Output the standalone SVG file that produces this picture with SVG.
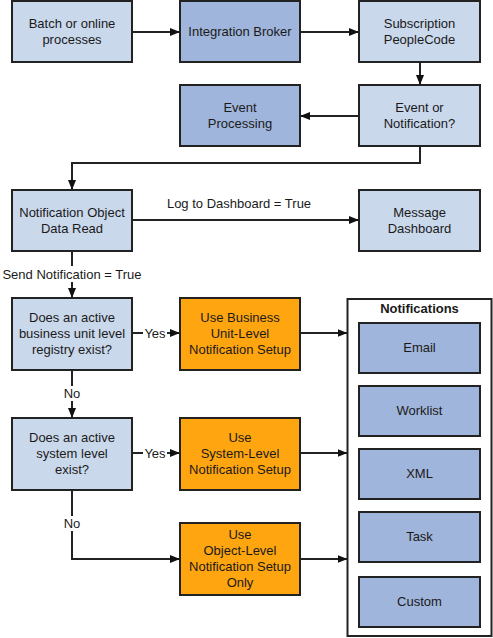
<svg xmlns="http://www.w3.org/2000/svg" width="493" height="638" viewBox="0 0 493 638">
<style>
text{font-family:"Liberation Sans",Arial,sans-serif;font-size:13px;fill:#1a1a1a;text-anchor:middle}
.lb{fill:#cad8ec;stroke:#222;stroke-width:2}
.mb{fill:#a0b5db;stroke:#222;stroke-width:2}
.or{fill:#ffa510;stroke:#222;stroke-width:2}
.ct{fill:#fff;stroke:#222;stroke-width:2}
.c{fill:none;stroke:#222;stroke-width:2}
.bg{fill:#fff}
.t{font-weight:bold}
</style>
<defs>
<marker id="ah" markerUnits="userSpaceOnUse" markerWidth="10" markerHeight="10" viewBox="0 0 10 10" refX="10" refY="5" orient="auto">
<path d="M0,1 L10,5 L0,9 Z" fill="#111"/>
</marker>
</defs>
<rect width="493" height="638" fill="#fff"/>
<g id="connectors">
<path class="c" d="M132,32 H180" marker-end="url(#ah)"/>
<path class="c" d="M300,32 H359" marker-end="url(#ah)"/>
<path class="c" d="M420,62 V85" marker-end="url(#ah)"/>
<path class="c" d="M359,116 H300" marker-end="url(#ah)"/>
<path class="c" d="M420,146 V163 H72 V190" marker-end="url(#ah)"/>
<path class="c" d="M132,220 H359" marker-end="url(#ah)"/>
<path class="c" d="M72,251 V298" marker-end="url(#ah)"/>
<path class="c" d="M132,333 H180" marker-end="url(#ah)"/>
<path class="c" d="M300,333 H347.5" marker-end="url(#ah)"/>
<path class="c" d="M72,370 V418" marker-end="url(#ah)"/>
<path class="c" d="M132,453 H180" marker-end="url(#ah)"/>
<path class="c" d="M300,453 H347.5" marker-end="url(#ah)"/>
<path class="c" d="M72,490 V559 H180" marker-end="url(#ah)"/>
<path class="c" d="M300,559 H347.5" marker-end="url(#ah)"/>
<text x="239" y="207.5">Log to Dashboard = True</text>
<rect class="bg" x="0" y="266" width="144" height="16"/>
<text x="72" y="278.5">Send Notification = True</text>
<rect class="bg" x="143" y="326" width="24" height="14"/>
<text x="155" y="338">Yes</text>
<rect class="bg" x="143" y="446" width="24" height="14"/>
<text x="155" y="457.5">Yes</text>
<rect class="bg" x="60" y="386" width="24" height="15"/>
<text x="72" y="397.5">No</text>
<rect class="bg" x="60" y="516" width="24" height="15"/>
<text x="72" y="527.5">No</text>
</g>
<g id="batch"><rect class="lb" x="12" y="1" width="120" height="61"/><text x="72" y="27.5">Batch or online</text><text x="72" y="43.5">processes</text></g>
<g id="broker"><rect class="mb" x="180" y="1" width="120" height="61"/><text x="240" y="36">Integration Broker</text></g>
<g id="subscription"><rect class="lb" x="359" y="1" width="121" height="61"/><text x="419.5" y="27.5">Subscription</text><text x="419.5" y="43.5">PeopleCode</text></g>
<g id="eventproc"><rect class="mb" x="180" y="85" width="120" height="61"/><text x="240" y="111.5">Event</text><text x="240" y="127.5">Processing</text></g>
<g id="eventornotif"><rect class="lb" x="359" y="85" width="121" height="61"/><text x="419.5" y="111.5">Event or</text><text x="419.5" y="127.5">Notification?</text></g>
<g id="notifread"><rect class="lb" x="12" y="190" width="120" height="61"/><text x="72" y="216.5">Notification Object</text><text x="72" y="232.5">Data Read</text></g>
<g id="dashboard"><rect class="lb" x="359" y="190" width="121" height="61"/><text x="419.5" y="216.5">Message</text><text x="419.5" y="232.5">Dashboard</text></g>
<g id="buregistry"><rect class="lb" x="12" y="298" width="120" height="72"/><text x="72" y="322">Does an active</text><text x="72" y="338">business unit level</text><text x="72" y="354">registry exist?</text></g>
<g id="usebu"><rect class="or" x="180" y="298" width="120" height="72"/><text x="240" y="322">Use Business</text><text x="240" y="338">Unit-Level</text><text x="240" y="354">Notification Setup</text></g>
<g id="syslevel"><rect class="lb" x="12" y="418" width="120" height="72"/><text x="72" y="442">Does an active</text><text x="72" y="458">system level</text><text x="72" y="474">exist?</text></g>
<g id="usesys"><rect class="or" x="180" y="418" width="120" height="72"/><text x="240" y="442">Use</text><text x="240" y="458">System-Level</text><text x="240" y="474">Notification Setup</text></g>
<g id="useobj"><rect class="or" x="180" y="523" width="120" height="72"/><text x="240" y="538.5">Use</text><text x="240" y="554.5">Object-Level</text><text x="240" y="570.5">Notification Setup</text><text x="240" y="586.5">Only</text></g>
<g id="notifications">
<rect class="ct" x="347.5" y="299" width="144" height="337"/>
<text class="t" x="419.5" y="312.5">Notifications</text>
<g id="email"><rect class="mb" x="359" y="323" width="121" height="50"/><text x="419.5" y="352">Email</text></g>
<g id="worklist"><rect class="mb" x="359" y="386" width="121" height="50"/><text x="419.5" y="414.5">Worklist</text></g>
<g id="xml"><rect class="mb" x="359" y="449" width="121" height="50"/><text x="419.5" y="478">XML</text></g>
<g id="task"><rect class="mb" x="359" y="512" width="121" height="50"/><text x="419.5" y="540.5">Task</text></g>
<g id="custom"><rect class="mb" x="359" y="577" width="121" height="50"/><text x="419.5" y="606">Custom</text></g>
</g>
</svg>
